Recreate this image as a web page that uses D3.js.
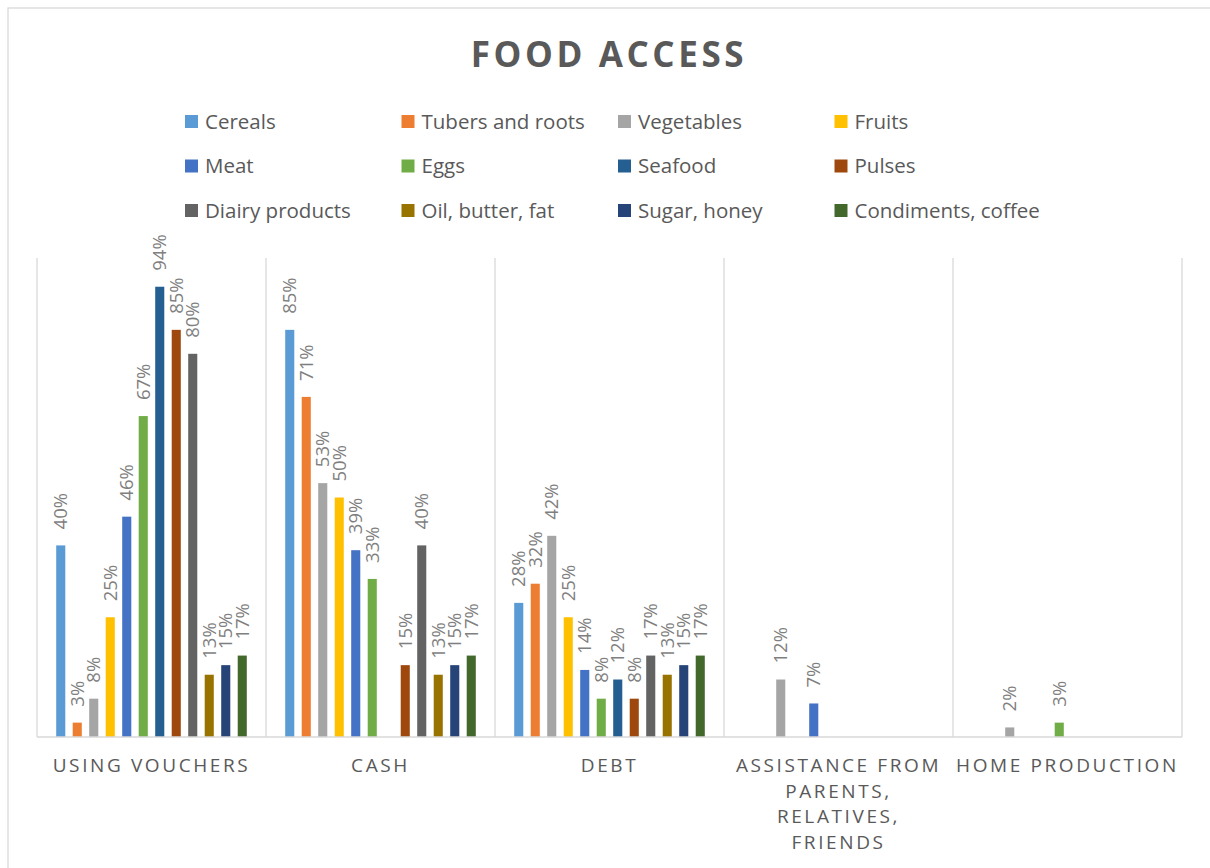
<!DOCTYPE html>
<html>
<head>
<meta charset="utf-8">
<script src="https://cdn.jsdelivr.net/npm/d3@7"></script>
<style>
  body { margin: 0; background: #fff; }
  text { font-family: "Open Sans", sans-serif; }
</style>
</head>
<body>
<svg id="chart" width="1210" height="868"></svg>
<script>
const categories = [
  "USING VOUCHERS",
  "CASH",
  "DEBT",
  "ASSISTANCE FROM PARENTS, RELATIVES, FRIENDS",
  "HOME PRODUCTION"
];
// label lines as they wrap on the axis
const categoryLines = [
  ["USING VOUCHERS"],
  ["CASH"],
  ["DEBT"],
  ["ASSISTANCE FROM", "PARENTS,", "RELATIVES,", "FRIENDS"],
  ["HOME PRODUCTION"]
];

const series = [
  "Cereals", "Tubers and roots", "Vegetables", "Fruits",
  "Meat", "Eggs", "Seafood", "Pulses",
  "Diairy products", "Oil, butter, fat", "Sugar, honey", "Condiments, coffee"
];
const colors = [
  "#5b9bd5", "#ed7d31", "#a5a5a5", "#ffc000",
  "#4472c4", "#70ad47", "#255e91", "#9e480e",
  "#636363", "#997300", "#264478", "#43682b"
];

// one value per series, per category (null = no bar)
const usingVouchers = [0.40, 0.03, 0.08, 0.25, 0.46, 0.67, 0.94, 0.85, 0.80, 0.13, 0.15, 0.17];
const cash          = [0.85, 0.71, 0.53, 0.50, 0.39, 0.33, null, 0.15, 0.40, 0.13, 0.15, 0.17];
const debt          = [0.28, 0.32, 0.42, 0.25, 0.14, 0.08, 0.12, 0.08, 0.17, 0.13, 0.15, 0.17];
const assistance    = [null, null, 0.12, null, 0.07, null, null, null, null, null, null, null];
const homeProd      = [null, null, 0.02, null, null, 0.03, null, null, null, null, null, null];
const values = [usingVouchers, cash, debt, assistance, homeProd];

const svg = d3.select("#chart");
const plot = { left: 37, right: 1182, top: 258, bottom: 737 };
const grey = "#d9d9d9";
const textCol = "#595959";

// chart frame
svg.append("rect")
  .attr("x", 8).attr("y", 8)
  .attr("width", 1220).attr("height", 880)
  .attr("fill", "#fff")
  .attr("stroke", grey).attr("stroke-width", 1.3);

// title
svg.append("text")
  .attr("x", 609).attr("y", 67)
  .attr("text-anchor", "middle")
  .attr("font-size", 35).attr("font-weight", 700)
  .attr("letter-spacing", 3.6)
  .attr("fill", textCol)
  .text("FOOD ACCESS");

// legend, 4 columns x 3 rows
const legend = svg.append("g").selectAll("g")
  .data(series)
  .join("g")
  .attr("transform", (d, i) => `translate(${185 + (i % 4) * 216.5},${121.5 + Math.floor(i / 4) * 44.5})`);
legend.append("rect")
  .attr("x", 0).attr("y", -6.5)
  .attr("width", 13).attr("height", 13)
  .attr("fill", (d, i) => colors[i]);
legend.append("text")
  .attr("x", 20).attr("y", 0)
  .attr("dy", "0.36em")
  .attr("font-size", 20.5)
  .attr("fill", textCol)
  .text(d => d);

// scales
const x0 = d3.scaleBand()
  .domain(categories)
  .range([plot.left, plot.right])
  .padding(0);
const x1 = d3.scaleBand()
  .domain(series)
  .range([15.5, x0.bandwidth() - 15.5])
  .paddingInner(0.45)
  .paddingOuter(0.225);
const y = d3.scaleLinear()
  .domain([0, 1])
  .range([plot.bottom, plot.top]);

// vertical gridlines at category boundaries
const bounds = categories.map(c => x0(c)).concat([plot.right]);
svg.append("g").selectAll("line")
  .data(bounds)
  .join("line")
  .attr("x1", d => d).attr("x2", d => d)
  .attr("y1", plot.top).attr("y2", plot.bottom)
  .attr("stroke", grey).attr("stroke-width", 1.3);

// bars
const groups = svg.append("g").selectAll("g")
  .data(categories)
  .join("g")
  .attr("transform", d => `translate(${x0(d)},0)`);

const cells = groups.selectAll("g")
  .data((c, ci) => series.map((s, si) => ({ s, si, v: values[ci][si] })).filter(d => d.v != null))
  .join("g");

cells.append("rect")
  .attr("x", d => x1(d.s))
  .attr("y", d => y(d.v))
  .attr("width", x1.bandwidth())
  .attr("height", d => y(0) - y(d.v))
  .attr("fill", d => colors[d.si]);

cells.append("text")
  .attr("transform", d => `translate(${x1(d.s) + x1.bandwidth() / 2},${y(d.v) - 16}) rotate(-90)`)
  .attr("dy", "0.36em")
  .attr("font-size", 18.5)
  .attr("fill", "#7f7f7f")
  .text(d => d3.format(".0%")(d.v));

// baseline
svg.append("line")
  .attr("x1", plot.left).attr("x2", plot.right)
  .attr("y1", plot.bottom).attr("y2", plot.bottom)
  .attr("stroke", grey).attr("stroke-width", 1.5);

// category labels
const xl = svg.append("g").selectAll("text")
  .data(categories)
  .join("text")
  .attr("x", d => x0(d) + x0.bandwidth() / 2)
  .attr("y", 772)
  .attr("text-anchor", "middle")
  .attr("font-size", 19)
  .attr("letter-spacing", 2.6)
  .attr("fill", textCol);
xl.selectAll("tspan")
  .data((d, i) => categoryLines[i])
  .join("tspan")
  .attr("x", function () { return d3.select(this.parentNode).attr("x"); })
  .attr("dy", (d, i) => i === 0 ? 0 : 25.5)
  .text(d => d);
</script>
</body>
</html>
